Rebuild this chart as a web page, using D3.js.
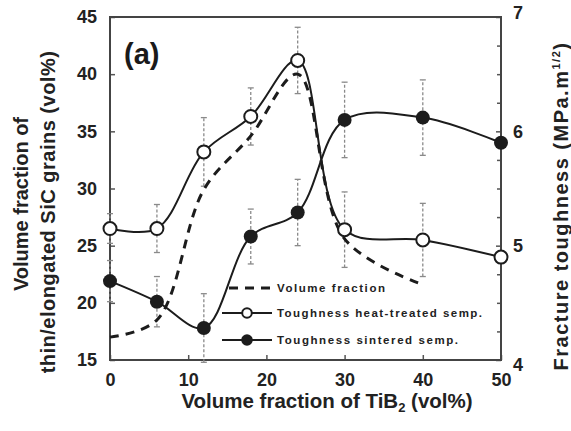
<!DOCTYPE html>
<html><head><meta charset="utf-8">
<script src="https://cdn.jsdelivr.net/npm/d3@7"></script>
<style>
body{margin:0;background:#fff;}
svg{display:block;font-family:"Liberation Sans",Arial,sans-serif;font-weight:bold;}
</style></head>
<body><svg id="c" width="571" height="431"></svg>
<script>
const xVals = [0, 6, 12, 18, 24, 30, 40, 50];
const heatTreated = [5.15, 5.15, 5.82, 6.13, 6.62, 5.14, 5.05, 4.90];
const heatErr = [0.13, 0.21, 0.30, 0.25, 0.29, 0.33, 0.32, 0];
const sintered = [4.69, 4.51, 4.28, 5.08, 5.29, 6.10, 6.12, 5.90];
const sintErr = [0.18, 0.22, 0.30, 0.24, 0.29, 0.33, 0.33, 0];
const volX = [0, 6, 12, 18, 24, 30, 40];
const volFrac = [17.0, 18.5, 29.9, 34.6, 40.0, 25.6, 21.6];
const xTicks = [0, 10, 20, 30, 40, 50];
const yLeftTicks = [15, 20, 25, 30, 35, 40, 45];
const yRightTicks = [4, 5, 6, 7];
const yRightMinor = [4.25, 4.5, 4.75, 5.25, 5.5, 5.75, 6.25, 6.5, 6.75];
const legendLabels = ["Volume fraction", "Toughness heat-treated semp.", "Toughness sintered semp."];

const svg = d3.select("#c");
const L = 110, R = 501, T = 17, B = 360;
const x = d3.scaleLinear().domain([0, 50]).range([L, R]);
const yL = d3.scaleLinear().domain([15, 45]).range([B, T]);
const yR = d3.scaleLinear().domain([4, 7]).range([B, T]);
const ink = "#1c1c1c";

// axes
const axL = svg.append("g").attr("transform", `translate(${L},0)`)
  .call(d3.axisLeft(yL).tickValues(yLeftTicks).tickFormat(d3.format("d")).tickSizeInner(-5).tickSizeOuter(0).tickPadding(13));
const axR = svg.append("g").attr("transform", `translate(${R},0)`)
  .call(d3.axisRight(yR).tickValues(yRightTicks).tickFormat(d3.format("d")).tickSizeInner(-5).tickSizeOuter(0).tickPadding(12));
svg.append("g").attr("transform", `translate(${R},0)`)
  .call(d3.axisRight(yR).tickValues(yRightMinor).tickSizeInner(-4).tickSizeOuter(0).tickFormat(""));
const axB = svg.append("g").attr("transform", `translate(0,${B})`)
  .call(d3.axisBottom(x).tickValues(xTicks).tickFormat(d3.format("d")).tickSizeInner(-5).tickSizeOuter(0).tickPadding(13));
svg.selectAll(".domain").remove();
svg.selectAll(".tick line").attr("stroke", "#555").attr("stroke-width", 1.5);
svg.selectAll(".tick text").attr("font-size", 18).attr("font-weight", "bold")
  .attr("font-family", "Liberation Sans, Arial, sans-serif").attr("fill", "#222");
axR.selectAll(".tick text").attr("dy", d => d === 4 ? "0.6em" : (d === 7 ? "0.1em" : "0.32em"));

// frame
svg.append("rect").attr("x", L).attr("y", T).attr("width", R - L).attr("height", B - T)
  .attr("fill", "none").attr("stroke", "#444").attr("stroke-width", 2);

// error bars
function errBars(vals, errs, cls) {
  const g = svg.append("g").attr("class", cls);
  vals.forEach((v, i) => {
    if (!errs[i]) return;
    const cx = x(xVals[i]);
    const y1 = yR(v - errs[i]), y2 = yR(v + errs[i]);
    g.append("line").attr("x1", cx).attr("x2", cx).attr("y1", y1).attr("y2", y2)
      .attr("stroke", "#8a8a8a").attr("stroke-width", 1.3).attr("stroke-dasharray", "3,2");
    [y1, y2].forEach(yy => g.append("line").attr("x1", cx - 3).attr("x2", cx + 3)
      .attr("y1", yy).attr("y2", yy).attr("stroke", "#8a8a8a").attr("stroke-width", 1.3));
  });
}
errBars(heatTreated, heatErr, "eh");
errBars(sintered, sintErr, "es");

const curve = d3.curveCatmullRom.alpha(0.5);
// dashed volume fraction
svg.append("path")
  .attr("d", d3.line().x((d, i) => x(volX[i])).y(d => yL(d)).curve(curve)(volFrac))
  .attr("fill", "none").attr("stroke", ink).attr("stroke-width", 3).attr("stroke-dasharray", "9,7");

const lineR = d3.line().x((d, i) => x(xVals[i])).y(d => yR(d)).curve(curve);
svg.append("path").attr("d", lineR(heatTreated)).attr("fill", "none").attr("stroke", ink).attr("stroke-width", 2);
svg.append("path").attr("d", lineR(sintered)).attr("fill", "none").attr("stroke", ink).attr("stroke-width", 2);

svg.append("g").selectAll("circle").data(heatTreated).join("circle")
  .attr("cx", (d, i) => x(xVals[i])).attr("cy", d => yR(d)).attr("r", 6.5)
  .attr("fill", "#fff").attr("stroke", ink).attr("stroke-width", 2);
svg.append("g").selectAll("circle").data(sintered).join("circle")
  .attr("cx", (d, i) => x(xVals[i])).attr("cy", d => yR(d)).attr("r", 7)
  .attr("fill", ink);

// legend
const lg = svg.append("g");
const rowsY = [288, 313, 340];
const legendLen = [108, 205, 181];
lg.append("line").attr("x1", 222).attr("x2", 272).attr("y1", rowsY[0]).attr("y2", rowsY[0])
  .attr("stroke", ink).attr("stroke-width", 3).attr("stroke-dasharray", "9,7").attr("stroke-dashoffset", -7);
[1, 2].forEach(k => {
  lg.append("line").attr("x1", 222).attr("x2", 272).attr("y1", rowsY[k]).attr("y2", rowsY[k])
    .attr("stroke", ink).attr("stroke-width", 2);
  lg.append("circle").attr("cx", 247).attr("cy", rowsY[k]).attr("r", 4.8)
    .attr("fill", k === 1 ? "#fff" : ink).attr("stroke", ink).attr("stroke-width", 2);
});
legendLabels.forEach((t, k) => {
  lg.append("text").attr("x", 277).attr("y", rowsY[k] + 4).attr("font-size", 11.5)
    .attr("textLength", legendLen[k]).attr("lengthAdjust", "spacing")
    .attr("fill", "#222").text(t);
});

// (a)
svg.append("text").attr("x", 124).attr("y", 64).attr("font-size", 29).attr("fill", "#1a1a1a").text("(a)");

// x title
const xt = svg.append("text").attr("x", 327).attr("y", 408).attr("text-anchor", "middle")
  .attr("font-size", 20.5).attr("fill", "#222");
xt.append("tspan").text("Volume fraction of TiB");
xt.append("tspan").attr("font-size", 13).attr("dy", 4).text("2");
xt.append("tspan").attr("dy", -4).text(" (vol%)");

// left title
svg.append("text").attr("transform", "translate(28,204) rotate(-90)").attr("text-anchor", "middle")
  .attr("font-size", 20).attr("fill", "#222").text("Volume fraction of");
svg.append("text").attr("transform", "translate(55,212) rotate(-90)").attr("text-anchor", "middle")
  .attr("font-size", 20).attr("letter-spacing", 0.5).attr("fill", "#222").text("thin/elongated SiC grains (vol%)");

// right title
const rt = svg.append("text").attr("transform", "translate(568,206) rotate(-90)").attr("text-anchor", "middle")
  .attr("font-size", 20).attr("letter-spacing", 1.5).attr("fill", "#222");
rt.append("tspan").text("Fracture toughness (MPa.m");
rt.append("tspan").attr("font-size", 11).attr("dy", -8).text("1/2");
rt.append("tspan").attr("dy", 8).text(")");
</script></body></html>
